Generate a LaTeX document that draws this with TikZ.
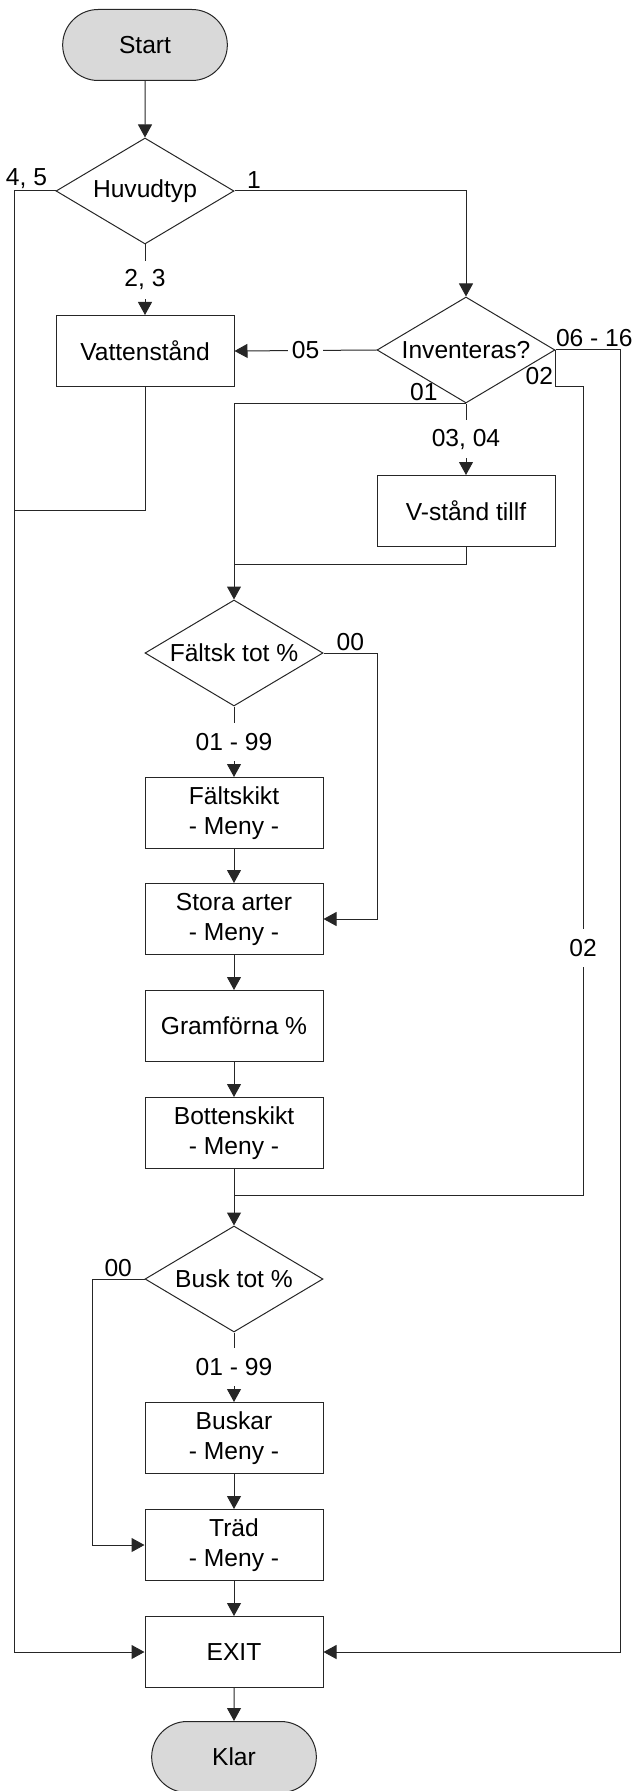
\documentclass[tikz,border=0pt]{standalone}
\usepackage{fontspec}
\setmainfont{Liberation Sans}
\usetikzlibrary{shapes.geometric,shapes.misc,arrows.meta}

\begin{document}
\begin{tikzpicture}[x=0.5pt,y=-0.5pt,->,>={Triangle[length=6.5pt,width=7pt]},draw=black!85,line width=0.5pt]
    \def\colA{145}
    \def\colB{234}
    \def\colC{466}
    \tikzstyle{every node}=[font=\fontsize{12.3}{15}\selectfont]
    \tikzstyle{block}=[draw,rectangle,minimum width=89pt,minimum height=35.5pt,inner sep=0pt,align=center]
    \tikzstyle{decision}=[draw,diamond,shape aspect=1.68,minimum width=89pt,minimum height=53pt,inner sep=0pt]
    \tikzstyle{terminal}=[draw,rounded rectangle,fill=gray!30,minimum width=89pt,minimum height=35.5pt]
    \tikzstyle{answer}=[fill=white,inner sep=2pt,minimum height=19pt]
    \tikzstyle{tag}=[inner sep=1pt]

    \useasboundingbox (0,0) rectangle (632,1791);

    % Draw the start and stop nodes
    \node[terminal] (start) at (\colA,45) {Start};
    \node[terminal] (klar) at (\colB,1757) {Klar};

    % Draw the questions
    \node[decision] (huvudtyp) at (\colA,191) {Huvudtyp};
    \node[decision] (inv) at (\colC,350) {Inventeras?};
    \node[decision] (faltsk) at (\colB,653) {Fältsk tot \%};
    \node[decision] (busk) at (\colB,1279) {Busk tot \%};

    % Draw the boxes
    \node[block] (vatten) at (\colA,351) {Vattenstånd};
    \node[block] (vstand) at (\colC,511) {V-stånd tillf};
    \foreach \name/\y/\txt in {faltskikt/813/{Fältskikt\\- Meny -},
                               stora/919/{Stora arter\\- Meny -},
                               gram/1026/{Gramförna \%},
                               botten/1133/{Bottenskikt\\- Meny -},
                               buskar/1438/{Buskar\\- Meny -},
                               trad/1545/{Träd\\- Meny -},
                               exit/1652/{EXIT}}
        \node[block] (\name) at (\colB,\y) {\txt};

    % Rails and meeting points of the lines
    \coordinate (leftrail) at (14,0);
    \coordinate (buskrail) at (92,0);
    \coordinate (faltskrail) at (377,0);
    \coordinate (skiprail) at (583,0);
    \coordinate (rightrail) at (620,0);
    \coordinate (vjoin) at (14,510);
    \coordinate (merge1) at (\colB,564);
    \coordinate (merge2) at (\colB,1195);

    % Huvudtyp and its answers
    \draw (start) -- (huvudtyp);
    \node[tag,anchor=south east] (l45) at ([xshift=-3pt]huvudtyp.west) {4, 5};
    \node[tag,anchor=south west] (l1) at ([xshift=5pt]huvudtyp.east) {1};
    \draw (huvudtyp.west) -- (huvudtyp.west -| leftrail) |- (exit.west);
    \draw (huvudtyp.east) -| (inv.north);
    \draw (huvudtyp) -- node[answer] (l23) {2, 3} (vatten);
    \draw[-] (vatten.south) |- (vjoin);

    % Inventeras and its answers
    \draw (inv.west) -- node[answer] (l05) {05} (vatten.east);
    \node[tag,anchor=south west,inner sep=0pt] (l0616) at ([yshift=1.5pt]inv.east) {06 - 16};
    \draw (inv.east) -- (inv.east -| rightrail) |- (exit.east);
    \draw[-] (inv.east) -- ++(0,37) coordinate (c02) -- (c02 -| skiprail)
        -- node[answer,pos=0.694] (l02b) {02} (skiprail |- merge2) -- (merge2);
    \node[tag,anchor=south east] (l02a) at (c02) {02};
    \node[tag,anchor=south east] (l01) at ([xshift=-13pt]inv.south) {01};
    \draw (inv.south) -- (inv.south -| faltsk) -- (faltsk);
    \draw (inv) -- node[answer] (l0304) {03, 04} (vstand);
    \draw[-] (vstand.south) |- (merge1);

    % Faltsk and the field layer
    \draw (faltsk.east) -- node[tag,anchor=south] (l00a) {00} (faltsk.east -| faltskrail) |- (stora.east);
    \draw (faltsk) -- node[answer] (l0199a) {01 - 99} (faltskikt);
    \foreach \a/\b in {faltskikt/stora,stora/gram,gram/botten,botten/busk}
        \draw (\a) -- (\b);

    % Busk and the trees
    \draw (busk.west) -- node[tag,anchor=south] (l00b) {00} (busk.west -| buskrail) |- (trad.west);
    \draw (busk) -- node[answer] (l0199b) {01 - 99} (buskar);
    \foreach \a/\b in {buskar/trad,trad/exit,exit/klar}
        \draw (\a) -- (\b);
\end{tikzpicture}
\end{document}
